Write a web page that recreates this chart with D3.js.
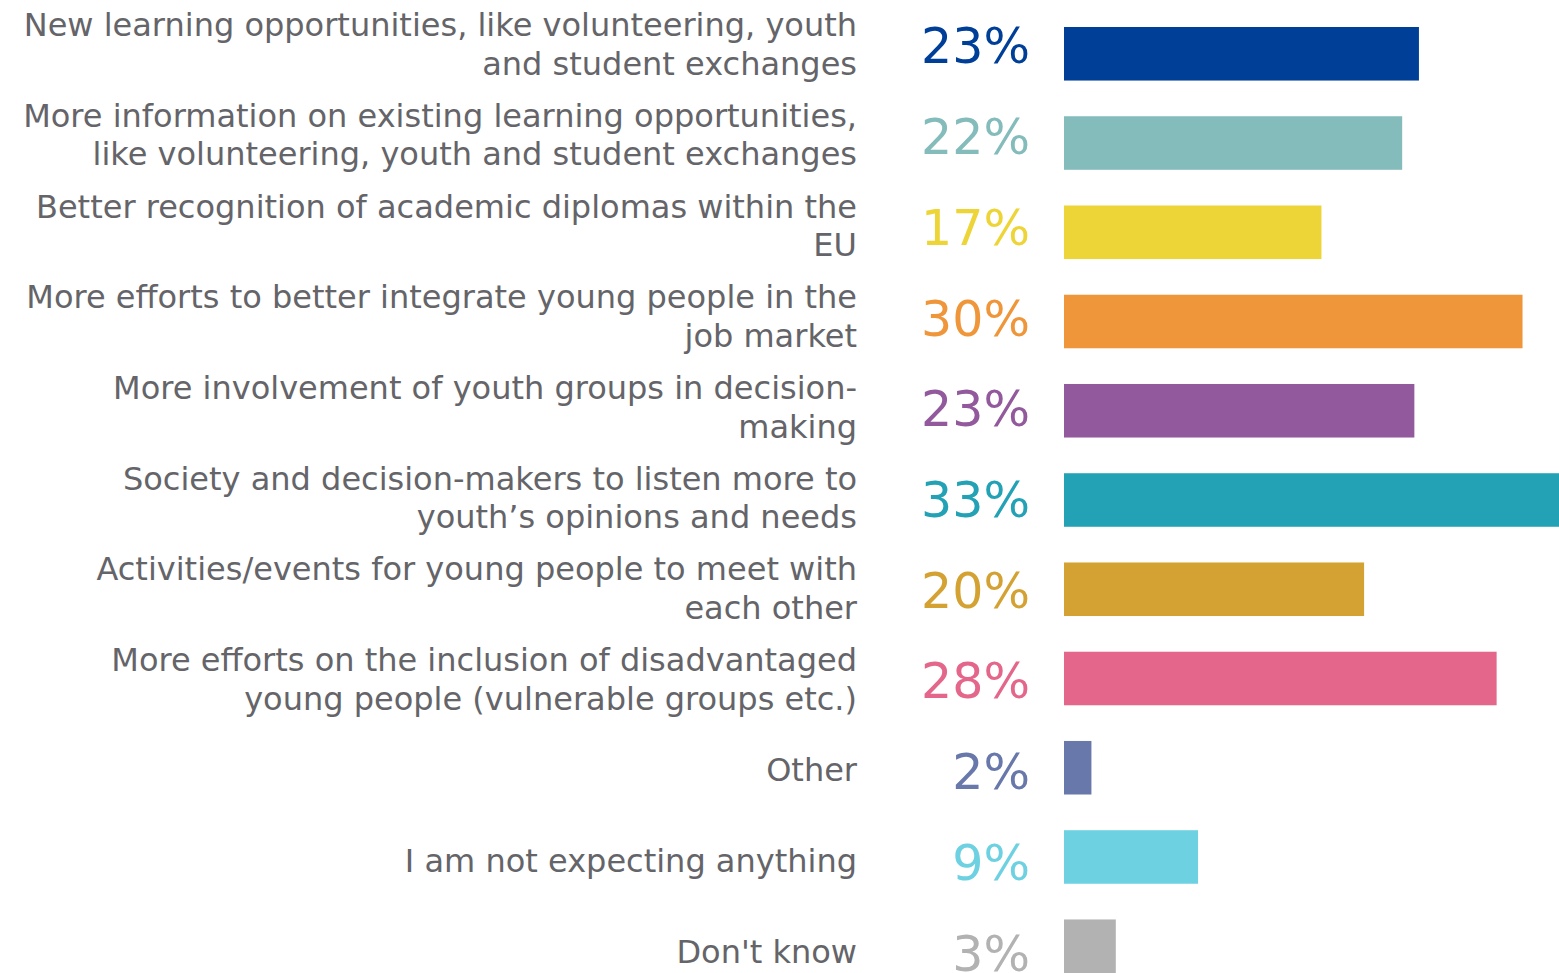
<!DOCTYPE html>
<html>
<head>
<meta charset="utf-8">
<script src="https://d3js.org/d3.v7.min.js"></script>
<style>
  body { margin: 0; background: #fff; }
  svg { display: block; }
</style>
</head>
<body>
<div id="my_dataviz"></div>
<script>
// chart data (label lines are the wraps seen in the original)
var categories = [
    ["New learning opportunities, like volunteering, youth", "and student exchanges"],
    ["More information on existing learning opportunities,", "like volunteering, youth and student exchanges"],
    ["Better recognition of academic diplomas within the", "EU"],
    ["More efforts to better integrate young people in the", "job market"],
    ["More involvement of youth groups in decision-", "making"],
    ["Society and decision-makers to listen more to", "youth\u2019s opinions and needs"],
    ["Activities/events for young people to meet with", "each other"],
    ["More efforts on the inclusion of disadvantaged", "young people (vulnerable groups etc.)"],
    ["Other"],
    ["I am not expecting anything"],
    ["Don't know"]
];
var values = [23.3, 22.2, 16.9, 30.1, 23.0, 33.2, 19.7, 28.4, 1.8, 8.8, 3.4];
var colors = ["#003f98", "#84bbbb", "#edd537", "#f0963a", "#93599d", "#23a1b5",
              "#d4a233", "#e4678b", "#6878ab", "#6dd1e1", "#b2b2b2"];

const width = 1559, height = 973;
var svg, x_scale, y_bar, y_label;

document.addEventListener('DOMContentLoaded', function () {
    svg = d3.select("#my_dataviz")
        .append("svg")
        .attr("width", width)
        .attr("height", height);

    var idx = d3.range(values.length);

    x_scale = d3.scaleLinear()
        .domain([0, 30])
        .range([1064, 1521]);

    // bars sit on a slightly tighter grid than the text rows
    y_bar = d3.scaleBand()
        .domain(idx)
        .range([27, 973])
        .paddingInner(0.4)
        .paddingOuter(0);

    y_label = d3.scaleBand()
        .domain(idx)
        .range([0, 998])
        .padding(0);

    // bars
    svg.selectAll("rect.bar")
        .data(idx)
        .enter()
        .append("rect")
        .attr("class", "bar")
        .attr("x", x_scale(0))
        .attr("y", function(i) { return y_bar(i); })
        .attr("width", function(i) { return x_scale(values[i]) - x_scale(0); })
        .attr("height", y_bar.bandwidth())
        .style("fill", function(i) { return colors[i]; });

    // percentage labels
    svg.selectAll("text.pct")
        .data(idx)
        .enter()
        .append("text")
        .attr("class", "pct")
        .attr("x", 1030)
        .attr("y", function(i) { return y_label(i) + y_label.bandwidth() / 2 + 18; })
        .attr("text-anchor", "end")
        .style("font-family", "'DejaVu Sans', Verdana, sans-serif")
        .style("font-size", "49px")
        .style("fill", function(i) { return colors[i]; })
        .text(function(i) { return Math.round(values[i]) + "%"; });

    // category labels
    var lineH = 38.5;
    var cat = svg.selectAll("text.cat")
        .data(idx)
        .enter()
        .append("text")
        .attr("class", "cat")
        .attr("text-anchor", "end")
        .style("font-family", "'DejaVu Sans', Verdana, sans-serif")
        .style("font-size", "32px")
        .style("fill", "#646469");

    cat.each(function(i) {
        var lines = categories[i];
        var c = y_label(i) + y_label.bandwidth() / 2 + 10;
        d3.select(this).selectAll("tspan")
            .data(lines)
            .enter()
            .append("tspan")
            .attr("x", 857)
            .attr("y", function(d, j) { return c + (j - (lines.length - 1) / 2) * lineH; })
            .text(function(d) { return d; });
    });
});
</script>
</body>
</html>
